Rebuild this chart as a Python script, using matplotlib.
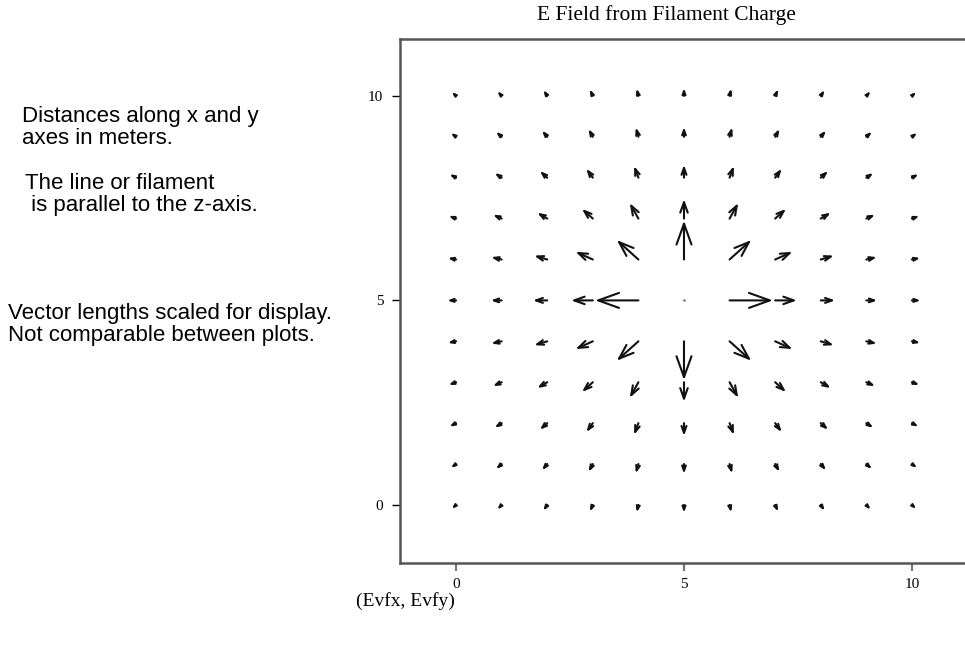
import numpy as np
import matplotlib.pyplot as plt

plt.rcParams['font.family'] = 'Liberation Serif'

# grid positions (m)
x_pos = [0, 1, 2, 3, 4, 5, 6, 7, 8, 9, 10]
y_pos = [0, 1, 2, 3, 4, 5, 6, 7, 8, 9, 10]

# field components, one row per y (0 -> 10), one column per x (0 -> 10)
Evfx = [
    [-0.10, -0.10, -0.09, -0.07, -0.04, 0, 0.04, 0.07, 0.09, 0.10, 0.10],
    [-0.12, -0.13, -0.12, -0.10, -0.06, 0, 0.06, 0.10, 0.12, 0.13, 0.12],
    [-0.15, -0.16, -0.17, -0.15, -0.10, 0, 0.10, 0.15, 0.17, 0.16, 0.15],
    [-0.17, -0.20, -0.23, -0.25, -0.20, 0, 0.20, 0.25, 0.23, 0.20, 0.17],
    [-0.19, -0.24, -0.30, -0.40, -0.50, 0, 0.50, 0.40, 0.30, 0.24, 0.19],
    [-0.20, -0.25, -0.33, -0.50, -1.00, 0, 1.00, 0.50, 0.33, 0.25, 0.20],
    [-0.19, -0.24, -0.30, -0.40, -0.50, 0, 0.50, 0.40, 0.30, 0.24, 0.19],
    [-0.17, -0.20, -0.23, -0.25, -0.20, 0, 0.20, 0.25, 0.23, 0.20, 0.17],
    [-0.15, -0.16, -0.17, -0.15, -0.10, 0, 0.10, 0.15, 0.17, 0.16, 0.15],
    [-0.12, -0.13, -0.12, -0.10, -0.06, 0, 0.06, 0.10, 0.12, 0.13, 0.12],
    [-0.10, -0.10, -0.09, -0.07, -0.04, 0, 0.04, 0.07, 0.09, 0.10, 0.10],
]
Evfy = [
    [-0.10, -0.12, -0.15, -0.17, -0.19, -0.20, -0.19, -0.17, -0.15, -0.12, -0.10],
    [-0.10, -0.13, -0.16, -0.20, -0.24, -0.25, -0.24, -0.20, -0.16, -0.13, -0.10],
    [-0.09, -0.12, -0.17, -0.23, -0.30, -0.33, -0.30, -0.23, -0.17, -0.12, -0.09],
    [-0.07, -0.10, -0.15, -0.25, -0.40, -0.50, -0.40, -0.25, -0.15, -0.10, -0.07],
    [-0.04, -0.06, -0.10, -0.20, -0.50, -1.00, -0.50, -0.20, -0.10, -0.06, -0.04],
    [0, 0, 0, 0, 0, 0, 0, 0, 0, 0, 0],
    [0.04, 0.06, 0.10, 0.20, 0.50, 1.00, 0.50, 0.20, 0.10, 0.06, 0.04],
    [0.07, 0.10, 0.15, 0.25, 0.40, 0.50, 0.40, 0.25, 0.15, 0.10, 0.07],
    [0.09, 0.12, 0.17, 0.23, 0.30, 0.33, 0.30, 0.23, 0.17, 0.12, 0.09],
    [0.10, 0.13, 0.16, 0.20, 0.24, 0.25, 0.24, 0.20, 0.16, 0.13, 0.10],
    [0.10, 0.12, 0.15, 0.17, 0.19, 0.20, 0.19, 0.17, 0.15, 0.12, 0.10],
]

fig = plt.figure(figsize=(9.65, 6.45), dpi=100)
ax = fig.add_axes([0.4145, 0.1271, 0.5886, 0.8124])
ax.set_xlim(-1.23, 11.23)
ax.set_ylim(-1.42, 11.39)

X, Y = np.meshgrid(x_pos, y_pos)
U = np.array(Evfx)
V = np.array(Evfy)
mag = np.hypot(U, V)
k = 0.95  # display scaling of vector lengths

for xi, yi, ui, vi, mi in zip(X.ravel(), Y.ravel(), U.ravel(), V.ravel(), mag.ravel()):
    if mi == 0:
        ax.plot(xi, yi, marker='.', ms=1.5, color='#666')
        continue
    ax.annotate('', xy=(xi + k * ui, yi + k * vi), xytext=(xi, yi),
                arrowprops=dict(arrowstyle='->,head_length=0.5,head_width=0.18',
                                mutation_scale=30 * mi, lw=1.5, color='#111111',
                                shrinkA=0, shrinkB=0))

for s in ax.spines.values():
    s.set_color('#555555')
    s.set_linewidth(1.8)

ax.set_xticks([0, 5, 10])
ax.set_yticks([0, 5, 10])
ax.tick_params(axis='y', length=6, width=1, color='black', pad=6, labelsize=11)
ax.tick_params(axis='x', length=6, width=1.6, color='#777777', pad=5, labelsize=11)

fig.text(0.691, 0.976, 'E Field from Filament Charge', ha='center', va='center', fontsize=15.5)
fig.text(0.369, 0.068, '(Evfx, Evfy)', ha='left', va='center', fontsize=14)

sans = 'Liberation Sans'
fs = 16
fig.text(0.023, 0.819, 'Distances along x and y', family=sans, fontsize=fs, va='center')
fig.text(0.023, 0.785, 'axes in meters.', family=sans, fontsize=fs, va='center')
fig.text(0.026, 0.716, 'The line or filament', family=sans, fontsize=fs, va='center')
fig.text(0.026, 0.682, ' is parallel to the z-axis.', family=sans, fontsize=fs, va='center')
fig.text(0.008, 0.514, 'Vector lengths scaled for display.', family=sans, fontsize=fs, va='center')
fig.text(0.008, 0.480, 'Not comparable between plots.', family=sans, fontsize=fs, va='center')

fig.savefig('out.png', dpi=100)
